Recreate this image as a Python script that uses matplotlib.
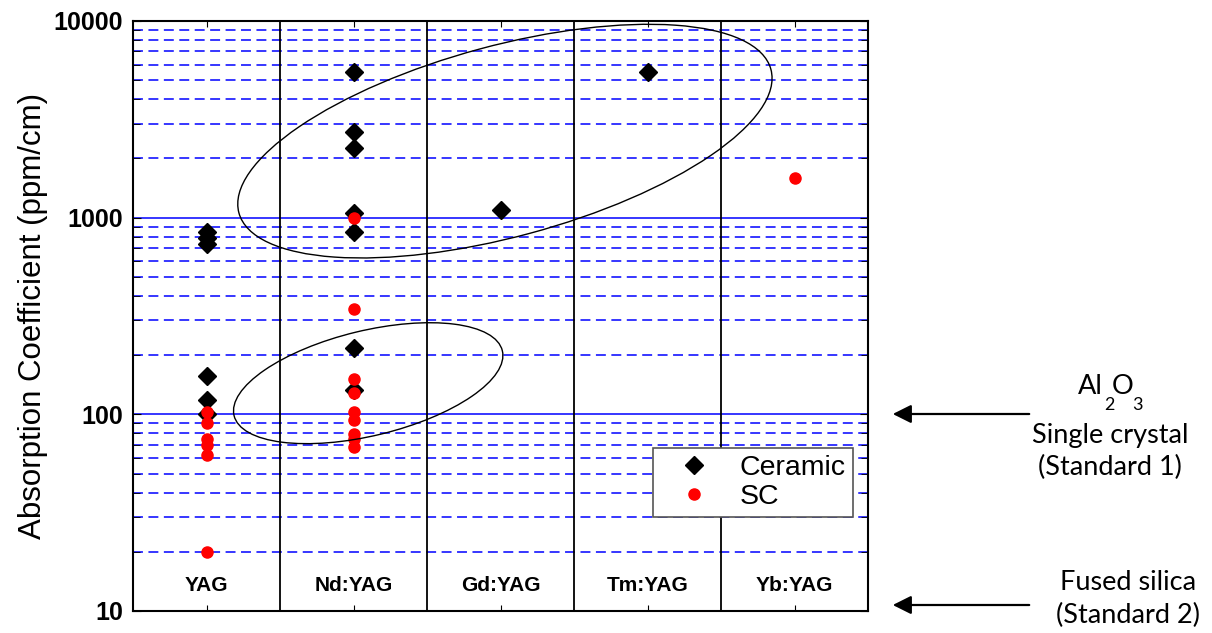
import matplotlib
matplotlib.use('Agg')
import matplotlib.pyplot as plt
from matplotlib.patches import Ellipse
from matplotlib.transforms import IdentityTransform
import matplotlib.ticker as mticker

plt.rcParams['font.family'] = ['Liberation Sans', 'DejaVu Sans']

# data
categories = ['YAG', 'Nd:YAG', 'Gd:YAG', 'Tm:YAG', 'Yb:YAG']
ceramic_vals = [
    [845, 790, 736, 157, 118, 100],          # YAG
    [5500, 2720, 2250, 1050, 850, 218, 133], # Nd:YAG
    [1100],                                  # Gd:YAG
    [5500],                                  # Tm:YAG
    [],                                      # Yb:YAG
]
sc_vals = [
    [103, 90, 75, 70, 62, 20],
    [1000, 345, 152, 128, 103, 94, 79, 75, 68],
    [],
    [],
    [1600],
]

fig = plt.figure(figsize=(12.12, 6.33), dpi=100)
ax = fig.add_axes([133/1212, 1-611/633, 735/1212, 590/633])

ax.set_yscale('log')
ax.set_ylim(10, 10000)
ax.set_xlim(-0.5, len(categories)-0.5)

# grid lines
ax.set_axisbelow(True)
ax.yaxis.set_minor_locator(mticker.LogLocator(base=10, subs=range(2, 10)))
ax.grid(True, which='major', axis='y', color='#0000ff', lw=1.1, ls='-')
ax.grid(True, which='minor', axis='y', color='#0000ff', lw=1.1, ls=(0, (6.5, 3.6)))

# column separators
for i in range(len(categories)-1):
    ax.axvline(i+0.5, color='black', lw=1.3, zorder=1)

# points
first = True
for i, vals in enumerate(ceramic_vals):
    if vals:
        ax.plot([i]*len(vals), vals, ls='none', marker='D', ms=9, color='black',
                label='Ceramic' if first else None, zorder=3)
        first = False
first = True
for i, vals in enumerate(sc_vals):
    if vals:
        ax.plot([i]*len(vals), vals, ls='none', marker='o', ms=8, color='red',
                mec='red', label='SC' if first else None, zorder=4)
        first = False

# category labels inside plot
for i, c in enumerate(categories):
    ax.text(i, 12.0, c, ha='center', va='bottom', fontsize=15, fontweight='bold')

# ticks
ax.set_xticks(range(len(categories)))
ax.set_xticklabels([])
ax.tick_params(axis='x', which='both', direction='in', top=True, bottom=True, length=4)
ax.tick_params(axis='y', which='both', direction='in', left=True, right=True)
ax.tick_params(axis='y', which='major', length=6, labelsize=18, pad=7)
ax.tick_params(axis='y', which='minor', length=5, labelleft=False)
ax.yaxis.set_major_formatter(mticker.FuncFormatter(lambda v, p: '%d' % v))
for lab in ax.get_yticklabels():
    lab.set_fontweight('bold')
for s in ax.spines.values():
    s.set_linewidth(1.5)

ax.set_ylabel('Absorption Coefficient (ppm/cm)', fontsize=22.5)
ax.yaxis.set_label_coords(-0.116, 0.5)

leg = ax.legend(loc='upper left', bbox_to_anchor=(0.707, 0.276), fontsize=20.5,
                frameon=True, fancybox=False, edgecolor='#555555', framealpha=1,
                handletextpad=0.4, borderpad=0.25, labelspacing=0.1,
                handlelength=2.4, borderaxespad=0)
leg.get_frame().set_linewidth(1.2)

# ellipses (center in data, size in pixels)
fig.canvas.draw()
ellipses = [((2.03, 2450), 551, 191, 15.1), ((1.10, 144), 276, 105, 13.6)]
for (cx, cy), w, h, ang in ellipses:
    px, py = ax.transData.transform((cx, cy))
    e = Ellipse((px, py), w, h, angle=ang, transform=IdentityTransform(),
                fill=False, edgecolor='black', lw=1.0, zorder=5)
    fig.add_artist(e)

# standards annotations on the right
ax.annotate('', xy=(890, 633-414), xycoords='figure pixels',
            xytext=(1032, 633-414), textcoords='figure pixels',
            arrowprops=dict(arrowstyle='-|>', color='black', lw=1.6, mutation_scale=28))
ax.annotate('', xy=(890, 633-605), xycoords='figure pixels',
            xytext=(1032, 633-605), textcoords='figure pixels',
            arrowprops=dict(arrowstyle='-|>', color='black', lw=1.6, mutation_scale=28))

tfont = dict(family=['Lato', 'DejaVu Sans'], fontsize=19.5, ha='center', va='center')
sfont = dict(family=['Lato', 'DejaVu Sans'], fontsize=13, ha='center', va='center')
fig.text(1090/1212, 1-386/633, 'Al', **tfont)
fig.text(1123/1212, 1-386/633, 'O', **tfont)
fig.text(1109/1212, 1-405/633, '2', **sfont)
fig.text(1137/1212, 1-405/633, '3', **sfont)
fig.text(1110/1212, 1-435/633, 'Single crystal', **tfont)
fig.text(1110/1212, 1-467/633, '(Standard 1)', **tfont)
fig.text(1128/1212, 1-582/633, 'Fused silica', **tfont)
fig.text(1128/1212, 1-615/633, '(Standard 2)', **tfont)

fig.savefig('out.png', dpi=100)
